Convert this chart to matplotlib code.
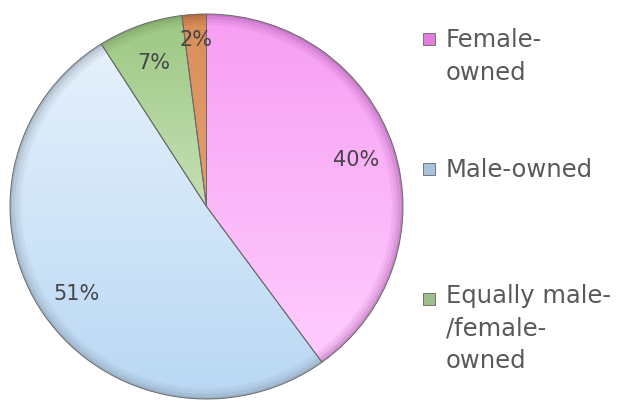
import matplotlib.pyplot as plt
import matplotlib.patches as mpatches
import matplotlib.colors as mcolors
import numpy as np

# Data
labels = ['Female-\nowned', 'Male-owned', 'Equally male-\n/female-\nowned', 'Other']
values = [40, 51, 7, 2]
legendCount = 3

# gradient colours (top, bottom) for each slice
topColors = ['#f79ef3', '#eaf3fc', '#9cc882', '#d98e58']
bottomColors = ['#ffd2ff', '#b9d8f4', '#eef7e8', '#eeb088']
rimColors = ['#a050a0', '#8090a0', '#70905c', '#905030']
markerColors = ['#e27fdc', '#a9c3dc', '#9ebf8c']

textColor = '#595959'
pctColor = '#454545'
fontName = 'DejaVu Sans'

fig = plt.figure(figsize=(6.21, 4.02), dpi=100)

# pie axes: centre ~ (206.5, 207.5) px, radii ~ 196.5 x 192.5 px
W, H = 621, 402
cx, cy, rx, ry = 206.5, 207.5, 196.5, 192.5
ax = fig.add_axes([(cx - rx) / W, (H - cy - ry) / H, 2 * rx / W, 2 * ry / H])

wedges, texts, autotexts = ax.pie(values, startangle=90, counterclock=False,
                                  radius=1.0, autopct='%d%%', pctdistance=0.8,
                                  wedgeprops=dict(edgecolor='#6a6a6a', linewidth=0.7),
                                  textprops=dict(color=pctColor, fontsize=15, family=fontName))
ax.set_xlim(-1.0, 1.0)
ax.set_ylim(-1.0, 1.0)
ax.set_aspect('auto')
ax.axis('off')

# fill each slice with a vertical gradient and a darker rim
grad = np.linspace(0, 1, 256).reshape(-1, 1)
for i, w in enumerate(wedges):
    c1 = np.array(mcolors.to_rgb(topColors[i]))
    c2 = np.array(mcolors.to_rgb(bottomColors[i]))
    img = c1[None, None, :] * (1 - grad[:, :, None]) + c2[None, None, :] * grad[:, :, None]
    im = ax.imshow(img, extent=[-1, 1, -1, 1], origin='upper', aspect='auto', zorder=1)
    im.set_clip_path(w)
    for k, a in zip([0.995, 0.98, 0.965, 0.95], [0.55, 0.35, 0.2, 0.1]):
        rim = mpatches.Circle((0, 0), k, fill=False, edgecolor=rimColors[i],
                              linewidth=2.0, alpha=a, zorder=3)
        ax.add_patch(rim)
        rim.set_clip_path(w)
    w.set_facecolor('none')
    w.set_zorder(4)

for t in texts:
    t.set_text('')
for t in autotexts:
    t.set_zorder(5)

# the small 2% label sits a bit further out
x, y = autotexts[3].get_position()
autotexts[3].set_position((x * 1.09, y * 1.09))

# legend drawn by hand to match the uneven spacing
firstBaselines = [47, 177, 307]
lastBaselines = [80, 177, 368]
for i in range(legendCount):
    yb = firstBaselines[i]
    fig.patches.append(mpatches.Rectangle((423 / W, (H - yb + 1) / H), 12 / W, 12 / H,
                                          transform=fig.transFigure, facecolor=markerColors[i],
                                          edgecolor='#666666', linewidth=0.6))
    fig.text(446 / W, (H - lastBaselines[i]) / H, labels[i], color=textColor, fontsize=17.5,
             family=fontName, va='baseline', ha='left', linespacing=1.45)

fig.savefig('out.png', dpi=100)
